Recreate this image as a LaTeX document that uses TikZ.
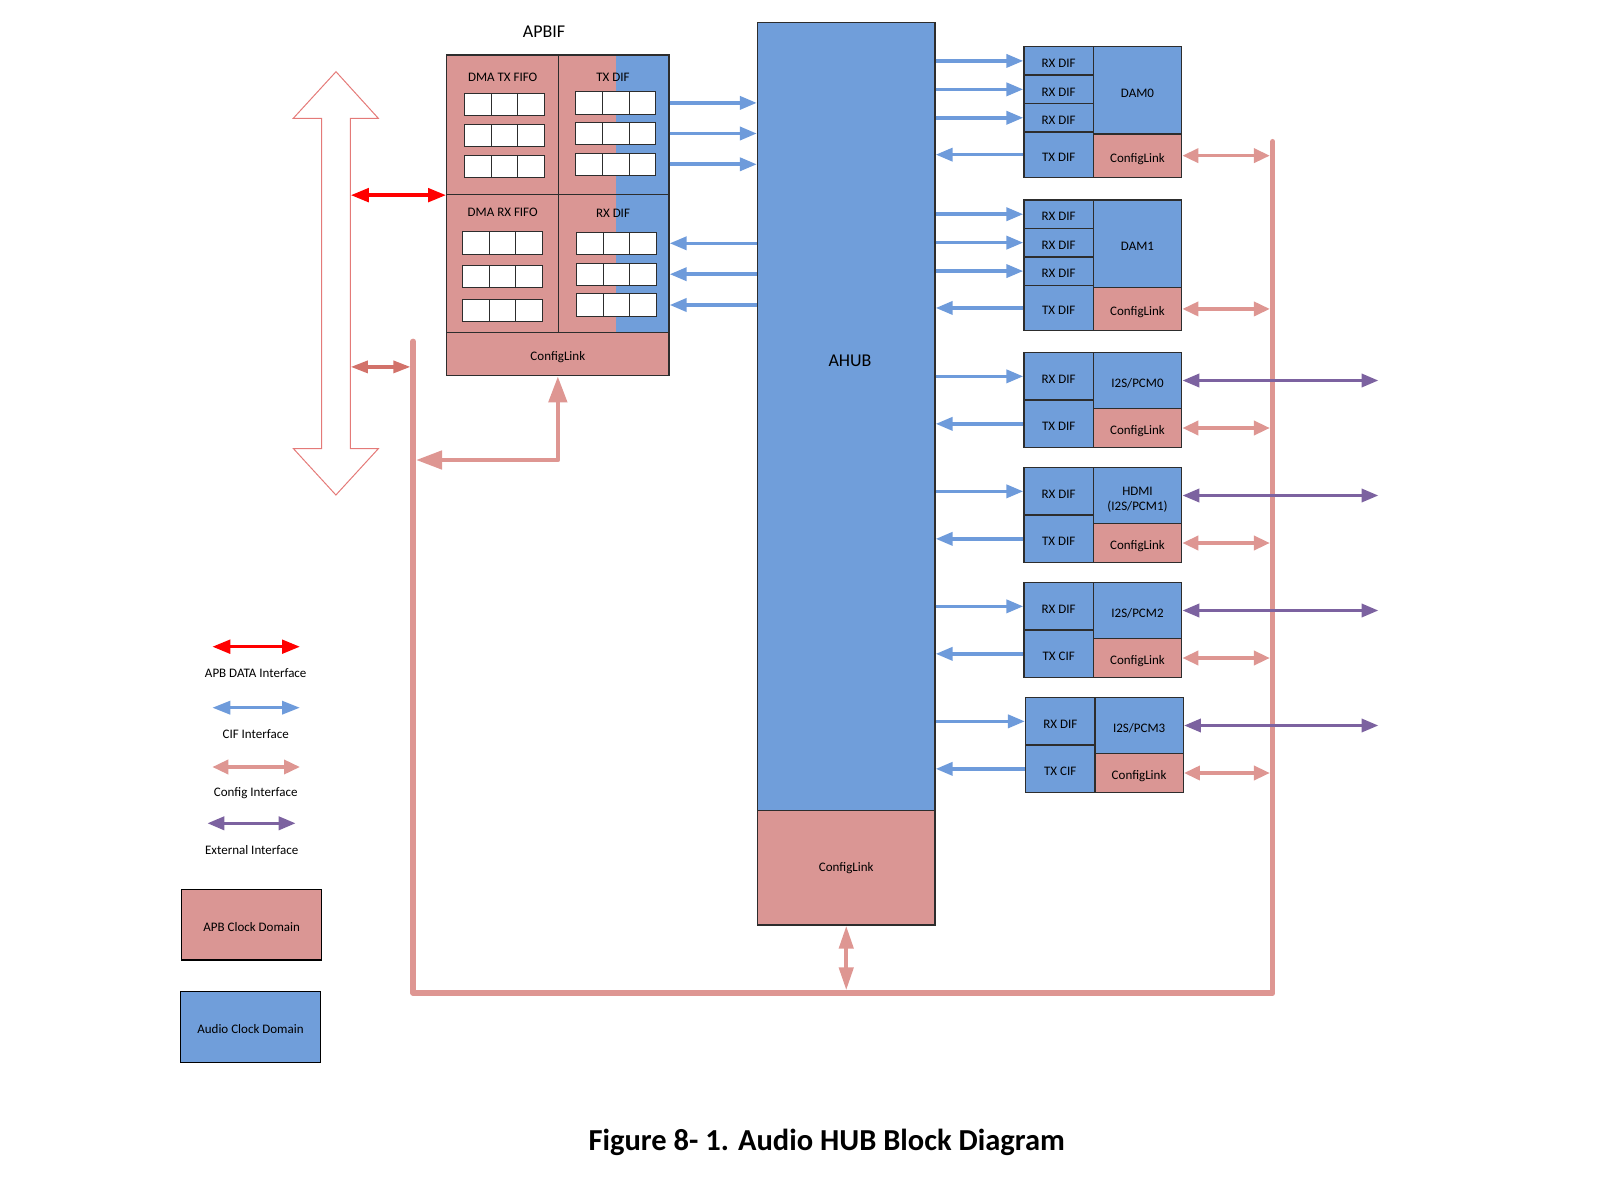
\documentclass[tikz,border=0pt]{standalone}
\usepackage{fontspec}
\setmainfont{Carlito}
\usetikzlibrary{arrows.meta}

\definecolor{audioblue}{RGB}{112,158,218}
\definecolor{apbred}{RGB}{218,150,148}
\definecolor{cifblue}{RGB}{110,155,219}
\definecolor{cfgred}{RGB}{222,150,146}
\definecolor{extpurple}{RGB}{124,98,160}
\definecolor{edgegray}{RGB}{45,45,45}
\definecolor{hollowred}{RGB}{228,122,120}
\definecolor{darkcfg}{RGB}{210,114,106}

\tikzset{
  blk/.style={draw=edgegray, line width=1.3pt, inner sep=0pt, align=center, text height=13.4pt, text depth=0pt, font=\fontsize{13}{14.5}\selectfont},
  bluebox/.style={blk, fill=audioblue},
  redbox/.style={blk, fill=apbred},
  cell/.style={draw=edgegray, line width=1pt, fill=white, minimum width=26.7pt, minimum height=22.3pt, inner sep=0pt},
  lbl/.style={inner sep=0pt, font=\fontsize{13}{14.5}\selectfont},
  cif/.style={draw=cifblue, line width=3.6pt, -{Triangle[length=17pt,width=13pt]}},
  cifboth/.style={draw=cifblue, line width=3.4pt, {Triangle[length=18pt,width=13pt]}-{Triangle[length=18pt,width=13pt]}},
  cfg/.style={draw=cfgred, line width=3.6pt, {Triangle[length=16pt,width=14pt]}-{Triangle[length=16pt,width=14pt]}},
  cfgbig/.style={draw=cfgred, line width=4.6pt, line join=round, {Triangle[length=26pt,width=18pt]}-{Triangle[length=26pt,width=18pt]}},
  cfgtall/.style={draw=cfgred, line width=4.3pt, {Triangle[length=23pt,width=14pt]}-{Triangle[length=23pt,width=14pt]}},
  cfgsmall/.style={draw=darkcfg, line width=3.2pt, {Triangle[length=17pt,width=12pt]}-{Triangle[length=17pt,width=12pt]}},
  ext/.style={draw=extpurple, line width=3.6pt, {Triangle[length=17pt,width=13pt]}-{Triangle[length=17pt,width=13pt]}},
  apb/.style={draw=red, line width=3.5pt, {Triangle[length=18pt,width=13.5pt]}-{Triangle[length=18pt,width=13.5pt]}},
  bus/.style={draw=cfgred, line width=5.5pt, line cap=round, line join=round},
}

\begin{document}
\begin{tikzpicture}[x=1pt, y=-1pt]
    \useasboundingbox (0,0) rectangle (1599,1180);

    % APBIF
    \node[font=\fontsize{18}{20}\selectfont] (apbiftxt) at (544,31.7) {APBIF};
    \node[redbox, minimum width=111.6pt, minimum height=139.5pt] (txfifo) at (502.5,124.75) {};
    \node[redbox, minimum width=110.7pt, minimum height=139.5pt,
      path picture={\fill[audioblue] ([xshift=57.4pt]path picture bounding box.south west) rectangle (path picture bounding box.north east);}] (txdif) at (613.65,124.75) {};
    \node[redbox, minimum width=111.6pt, minimum height=138.2pt] (rxfifo) at (502.5,263.6) {};
    \node[redbox, minimum width=110.7pt, minimum height=138.2pt,
      path picture={\fill[audioblue] ([xshift=57.4pt]path picture bounding box.south west) rectangle (path picture bounding box.north east);}] (rxdif) at (613.65,263.6) {};
    \node[redbox, minimum width=222.3pt, minimum height=43pt] (apcfg) at (557.85,354.2) {ConfigLink};

    \node[lbl] (txfifotxt) at (502.7,77.5) {DMA TX FIFO};
    \node[lbl] (txdiftxt) at (613,77.5) {TX DIF};
    \node[lbl] (rxfifotxt) at (502.7,212.5) {DMA RX FIFO};
    \node[lbl] (rxdiftxt) at (613,213) {RX DIF};

    % FIFO cells
    \foreach \r/\ya/\yb/\yc/\yd in {1/104.5/102.9/242.9/243.3, 2/135.5/133.5/276.2/274.2, 3/166.2/164.3/310.5/305} {
        \foreach \c in {1,2,3} {
            \node[cell] (txf\r\c) at (451+26.7*\c,\ya) {};
            \node[cell] (txd\r\c) at (562.35+26.7*\c,\yb) {};
            \node[cell] (rxf\r\c) at (449+26.7*\c,\yc) {};
            \node[cell] (rxd\r\c) at (562.95+26.7*\c,\yd) {};
        }
    }

    % AHUB
    \node[bluebox, minimum width=177.5pt, minimum height=788.4pt] (ahub) at (846.25,416.5) {};
    \node[font=\fontsize{18}{20}\selectfont] (ahubtxt) at (850,361) {AHUB};
    \node[redbox, text height=9.5pt, text depth=2.6pt, minimum width=177.5pt, minimum height=114.3pt] (ahubcfg) at (846.25,867.85) {ConfigLink};

    % DAM blocks
    \foreach \k in {0,1} {
        \pgfmathsetmacro\dy{153.3*\k}
        \foreach \r in {1,2,3} {
            \node[bluebox, minimum width=69.3pt, minimum height=28.43pt] (dam\k r\r) at (1058.65,32.49+28.43*\r+\dy) {RX DIF};
        }
        \node[bluebox, minimum width=69.3pt, minimum height=45.3pt] (dam\k tx) at (1058.65,154.65+\dy) {TX DIF};
        \node[bluebox, minimum width=88.4pt, minimum height=87.3pt] (dam\k) at (1137.5,90.35+\dy) {DAM\k};
        \node[redbox, minimum width=88.4pt, minimum height=43.3pt] (dam\k cfg) at (1137.5,155.65+\dy) {ConfigLink};
    }

    % I2S/PCM blocks
    \foreach \k/\dx/\th/\nm/\tx in {0/0/13.4/{I2S/PCM0}/TX DIF, 1/0/29.6/{HDMI\\(I2S/PCM1)}/TX DIF, 2/0/13.4/{I2S/PCM2}/TX CIF, 3/1.6/13.4/{I2S/PCM3}/TX CIF} {
        \pgfmathsetmacro\dy{115*\k}
        \node[bluebox, minimum width=69.3pt, minimum height=47.3pt] (pcm\k rx) at (1058.65+\dx,376.35+\dy) {RX DIF};
        \node[bluebox, minimum width=69.3pt, minimum height=47.7pt] (pcm\k tx) at (1058.65+\dx,423.85+\dy) {\tx};
        \node[bluebox, text height=\th pt, minimum width=88.4pt, minimum height=55.6pt] (pcm\k) at (1137.5+\dx,380.5+\dy) {\nm};
        \node[redbox, minimum width=88.4pt, minimum height=39.4pt] (pcm\k cfg) at (1137.5+\dx,428+\dy) {ConfigLink};
    }

    % Config bus
    \coordinate (lbustop) at (413.2,341.4);
    \coordinate (lbusbot) at (413.2,993.2);
    \coordinate (rbusbot) at (1272.7,993.2);
    \coordinate (rbustop) at (1272.7,141.7);
    \coordinate (rbusedge) at (1269.9,141.7);
    \coordinate (lbusedge) at (416,341.4);
    \coordinate (lbusouter) at (410.4,341.4);
    \coordinate (busedgebot) at (846.25,990.4);
    \coordinate (extend) at (1378.5,0);
    \draw[bus] (lbustop) -- (lbusbot) -- (rbusbot) -- (rbustop);

    % Hollow APB bus arrow
    \draw[hollowred, line width=1pt, line join=miter] (336,71.7) -- (378.3,118.3) -- (350.3,118.3) -- (350.3,448.6)
        -- (378.4,448.6) -- (335.9,495) -- (293.4,448.6) -- (321.5,448.6) -- (321.5,118.3) -- (293.3,118.3) -- cycle;
    \coordinate (shaft) at (350.8,300);
    \coordinate (shaftcfg) at (350.8,366.9);
    \coordinate (apbturn) at (557.85,460);

    % Connections
    \draw[apb] (shaft |- txfifo.south west) -- (txfifo.south west);
    \draw[cfgsmall] (shaftcfg) -- (lbusouter |- shaftcfg);
    \draw[cfgbig] (lbusedge |- apbturn) -- (apbturn) -- (apcfg.south);
    \draw[cfgtall] (ahubcfg.south) -- (busedgebot);
    \foreach \r in {1,2,3} {
        \draw[cif] (txdif.east |- txd\r3.east) -- (ahub.west |- txd\r3.east);
        \draw[cif] (ahub.west |- rxd\r3.east) -- (rxdif.east |- rxd\r3.east);
    }
    \foreach \k in {0,1} {
        \foreach \r in {1,2,3} {
            \draw[cif] (ahub.east |- dam\k r\r.west) -- (dam\k r\r.west);
        }
        \draw[cif] (dam\k tx.west) -- (ahub.east |- dam\k tx.west);
        \draw[cfg] (dam\k cfg.east) -- (rbusedge |- dam\k cfg.east);
    }
    \foreach \k in {0,1,2,3} {
        \draw[cif] (ahub.east |- pcm\k rx.west) -- (pcm\k rx.west);
        \draw[cif] (pcm\k tx.west) -- (ahub.east |- pcm\k tx.west);
        \draw[cfg] (pcm\k cfg.east) -- (rbusedge |- pcm\k cfg.east);
        \draw[ext] (pcm\k.east) -- (extend |- pcm\k.east);
    }

    % Legend
    \coordinate (lga1) at (212.3,646.7);
    \coordinate (lga2) at (300,646.7);
    \coordinate (lgb1) at (212.3,707.7);
    \coordinate (lgb2) at (300,707.7);
    \coordinate (lgc1) at (212.3,767);
    \coordinate (lgc2) at (300,767);
    \coordinate (lgd1) at (207.3,823.3);
    \coordinate (lgd2) at (295.7,823.3);
    \draw[apb] (lga1) -- (lga2);
    \draw[cifboth] (lgb1) -- (lgb2);
    \draw[cfg] (lgc1) -- (lgc2);
    \draw[ext] (lgd1) -- (lgd2);
    \node[lbl] (lgatxt) at (255.7,673.5) {APB DATA Interface};
    \node[lbl] (lgbtxt) at (255.7,734) {CIF Interface};
    \node[lbl] (lgctxt) at (255.7,793) {Config Interface};
    \node[lbl] (lgdtxt) at (251.7,850) {External Interface};
    \node[redbox, draw=black, minimum width=140pt, minimum height=70.7pt] (apbdom) at (251.7,924.65) {APB Clock Domain};
    \node[bluebox, draw=black, minimum width=140.4pt, minimum height=71pt] (auddom) at (250.5,1027.2) {Audio Clock Domain};

    % Caption
    \node[anchor=base, inner sep=0pt, font=\bfseries\fontsize{30.5}{34}\selectfont] (caption) at (826.7,1150.7) {Figure 8- 1. Audio HUB Block Diagram};
\end{tikzpicture}
\end{document}
